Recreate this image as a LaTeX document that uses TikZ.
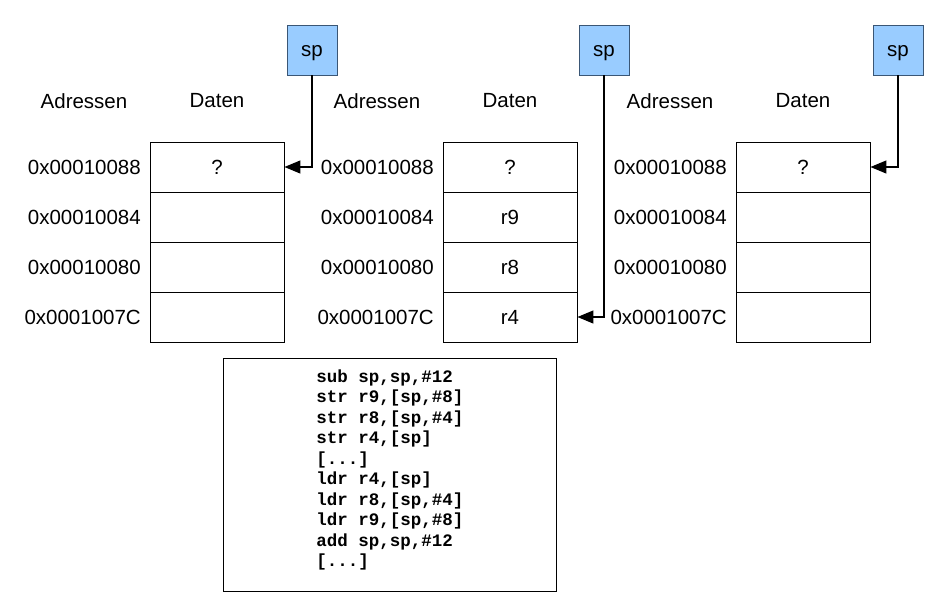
\documentclass[tikz,border=0pt]{standalone}
\usepackage{fontspec}
\setmainfont{Liberation Sans}
\setmonofont{Liberation Mono}
\usetikzlibrary{arrows.meta}
\definecolor{spfill}{HTML}{99CCFF}
\definecolor{spdraw}{HTML}{3A5675}
\tikzset{
  cell/.style={draw=black, line width=0.9pt, minimum width=134pt, minimum height=50pt, inner sep=0pt, font=\fontsize{20.5}{24}\selectfont},
  spbox/.style={draw=spdraw, fill=spfill, line width=0.9pt, minimum width=50pt, minimum height=50pt, inner sep=0pt, text height=13pt, text depth=0pt, font=\fontsize{20.5}{24}\selectfont},
  lbl/.style={inner sep=0pt, font=\fontsize{20.5}{24}\selectfont},
  addr/.style={lbl, anchor=east},
  ptr/.style={line width=1.3pt, -{Triangle[length=16pt,width=13pt]}},
  codebox/.style={draw=black, line width=0.9pt, minimum width=333pt, minimum height=233pt, inner sep=0pt},
  codetext/.style={align=left, inner sep=0pt, font=\fontsize{17.5}{20.44}\selectfont\ttfamily\bfseries}
}
\begin{document}
\begin{tikzpicture}[x=1pt,y=-1pt]
\useasboundingbox (0,0) rectangle (944,613);

% column 1
\node[lbl] (adr1) at (84,101) {Adressen};
\node[lbl] (dat1) at (217,101) {Daten};
\node[cell] (c1r1) at (217,167) {?};
\node[cell] (c1r2) at (217,217) {};
\node[cell] (c1r3) at (217,267) {};
\node[cell] (c1r4) at (217,317) {};
\node[addr] (a1r1) at (141,167) {0x00010088};
\node[addr] (a1r2) at (141,217) {0x00010084};
\node[addr] (a1r3) at (141,267) {0x00010080};
\node[addr] (a1r4) at (141,317) {0x0001007C};
\node[spbox] (sp1) at (312,50) {sp};

% column 2
\node[lbl] (adr2) at (377,101) {Adressen};
\node[lbl] (dat2) at (510,101) {Daten};
\node[cell] (c2r1) at (510,167) {?};
\node[cell] (c2r2) at (510,217) {r9};
\node[cell] (c2r3) at (510,267) {r8};
\node[cell] (c2r4) at (510,317) {r4};
\node[addr] (a2r1) at (434,167) {0x00010088};
\node[addr] (a2r2) at (434,217) {0x00010084};
\node[addr] (a2r3) at (434,267) {0x00010080};
\node[addr] (a2r4) at (434,317) {0x0001007C};
\node[spbox] (sp2) at (604,50) {sp};

% column 3
\node[lbl] (adr3) at (670,101) {Adressen};
\node[lbl] (dat3) at (803,101) {Daten};
\node[cell] (c3r1) at (803,167) {?};
\node[cell] (c3r2) at (803,217) {};
\node[cell] (c3r3) at (803,267) {};
\node[cell] (c3r4) at (803,317) {};
\node[addr] (a3r1) at (727,167) {0x00010088};
\node[addr] (a3r2) at (727,217) {0x00010084};
\node[addr] (a3r3) at (727,267) {0x00010080};
\node[addr] (a3r4) at (727,317) {0x0001007C};
\node[spbox] (sp3) at (898,50) {sp};

% pointers
\draw[ptr] (sp1.south) |- (c1r1.east);
\draw[ptr] (sp2.south) |- (c2r4.east);
\draw[ptr] (sp3.south) |- (c3r1.east);

% code
\node[codebox] (box) at (389.5,474.5) {};
\node[codetext] (code) at (390,470) {sub sp,sp,\#12\\
str r9,[sp,\#8]\\
str r8,[sp,\#4]\\
str r4,[sp]\\
{[...]}\\
ldr r4,[sp]\\
ldr r8,[sp,\#4]\\
ldr r9,[sp,\#8]\\
add sp,sp,\#12\\
{[...]}};
\end{tikzpicture}
\end{document}
